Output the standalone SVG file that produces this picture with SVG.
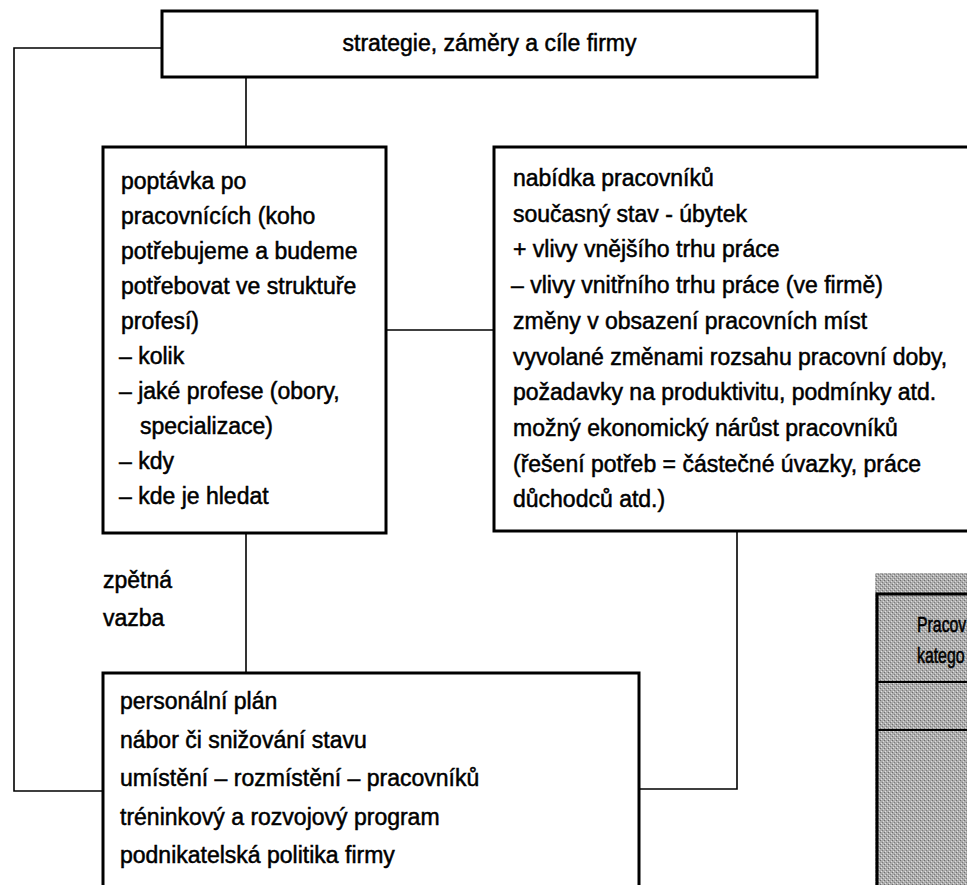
<svg xmlns="http://www.w3.org/2000/svg" width="967" height="885" viewBox="0 0 967 885">
<style>
.box{fill:#fff;stroke:#000;stroke-width:3}
.ln{fill:none;stroke:#000;stroke-width:1.6}
.t{font-family:"Liberation Sans",Arial,sans-serif;font-size:23px;fill:#000;stroke:#000;stroke-width:0.5}
.g{font-family:"Liberation Sans",Arial,sans-serif;font-size:22px;fill:#000;stroke:#000;stroke-width:0.6}
</style>
<defs>
<pattern id="stip" width="4" height="4" patternUnits="userSpaceOnUse">
<rect width="4" height="4" fill="#acacac"/>
<rect x="0" y="0" width="1" height="1" fill="#6e6e6e"/>
<rect x="2" y="2" width="1" height="1" fill="#7c7c7c"/>
<rect x="3" y="1" width="1" height="1" fill="#dadada"/>
<rect x="1" y="3" width="1" height="1" fill="#e2e2e2"/>
</pattern>
</defs>
<rect width="967" height="885" fill="#fff"/>
<g id="connectors">
<polyline class="ln" points="162,48 14,48 14,791 102,791"/>
<line class="ln" x1="246" y1="77" x2="246" y2="147"/>
<line class="ln" x1="386" y1="330" x2="494" y2="330"/>
<line class="ln" x1="246" y1="533" x2="246" y2="673"/>
<polyline class="ln" points="737,531 737,789 639,789"/>
</g>
<g id="top">
<rect class="box" x="162" y="11" width="655" height="66"/>
<text class="t" x="489.5" y="51" text-anchor="middle">strategie, záměry a cíle firmy</text>
</g>
<g id="demand">
<rect class="box" x="103" y="147" width="283" height="386"/>
<text class="t" x="121" y="189">poptávka po</text>
<text class="t" x="121" y="224">pracovnících (koho</text>
<text class="t" x="121" y="259">potřebujeme a budeme</text>
<text class="t" x="121" y="294">potřebovat ve struktuře</text>
<text class="t" x="121" y="329">profesí)</text>
<text class="t" x="119" y="364">– kolik</text>
<text class="t" x="119" y="399">– jaké profese (obory,</text>
<text class="t" x="140" y="434">specializace)</text>
<text class="t" x="119" y="469">– kdy</text>
<text class="t" x="119" y="504">– kde je hledat</text>
</g>
<g id="supply">
<rect class="box" x="494" y="147" width="480" height="384"/>
<text class="t" x="513" y="186">nabídka pracovníků</text>
<text class="t" x="513" y="221.7">současný stav - úbytek</text>
<text class="t" x="513" y="257.4">+ vlivy vnějšího trhu práce</text>
<text class="t" x="511" y="293.1">– vlivy vnitřního trhu práce (ve firmě)</text>
<text class="t" x="513" y="328.8">změny v obsazení pracovních míst</text>
<text class="t" x="513" y="364.5">vyvolané změnami rozsahu pracovní doby,</text>
<text class="t" x="513" y="400.2">požadavky na produktivitu, podmínky atd.</text>
<text class="t" x="513" y="435.9">možný ekonomický nárůst pracovníků</text>
<text class="t" x="513" y="471.6">(řešení potřeb = částečné úvazky, práce</text>
<text class="t" x="513" y="507.3">důchodců atd.)</text>
</g>
<g id="feedback">
<text class="t" x="103" y="588">zpětná</text>
<text class="t" x="103" y="626">vazba</text>
</g>
<g id="plan">
<rect class="box" x="103" y="673" width="536" height="230"/>
<text class="t" x="120" y="709">personální plán</text>
<text class="t" x="120" y="747.5">nábor či snižování stavu</text>
<text class="t" x="120" y="786">umístění – rozmístění – pracovníků</text>
<text class="t" x="120" y="824.5">tréninkový a rozvojový program</text>
<text class="t" x="120" y="863">podnikatelská politika firmy</text>
</g>
<g id="table-fragment">
<rect x="875" y="573" width="100" height="320" fill="url(#stip)"/>
<rect x="877" y="594" width="100" height="300" fill="none" stroke="#000" stroke-width="3"/>
<line x1="877" y1="682" x2="967" y2="682" stroke="#000" stroke-width="2"/>
<line x1="877" y1="730" x2="967" y2="730" stroke="#000" stroke-width="2"/>
<text class="g" transform="translate(917,632) scale(0.72,1)">Pracov</text>
<text class="g" transform="translate(917,663) scale(0.72,1)">katego</text>
</g>
</svg>
